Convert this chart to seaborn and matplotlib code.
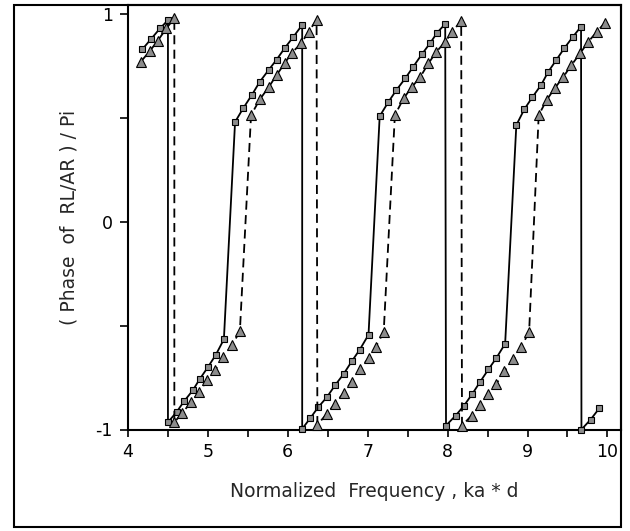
import matplotlib
matplotlib.use("Agg")
import matplotlib.pyplot as plt
from matplotlib.patches import Rectangle
from matplotlib.ticker import MultipleLocator
import seaborn as sns
import pandas as pd

# ---- data ----
sq_x = [4.18, 4.29, 4.40, 4.50,
        4.50, 4.61, 4.70, 4.81, 4.90, 5.00, 5.10, 5.20,
        5.34, 5.44, 5.55, 5.65, 5.76, 5.86, 5.96, 6.07, 6.18,
        6.18, 6.28, 6.38, 6.49, 6.59, 6.70, 6.80, 6.90, 7.01,
        7.15, 7.26, 7.36, 7.47, 7.57, 7.68, 7.78, 7.87, 7.97,
        7.98, 8.10, 8.20, 8.31, 8.41, 8.51, 8.61, 8.72,
        8.86, 8.96, 9.06, 9.17, 9.26, 9.36, 9.46, 9.57, 9.67,
        9.675, 9.79, 9.90]
sq_y = [0.83, 0.88, 0.93, 0.97,
        -0.965, -0.915, -0.865, -0.812, -0.756, -0.70, -0.64, -0.566,
        0.48, 0.545, 0.61, 0.674, 0.73, 0.78, 0.835, 0.89, 0.947,
        -0.997, -0.946, -0.893, -0.844, -0.788, -0.732, -0.672, -0.616, -0.544,
        0.508, 0.577, 0.634, 0.69, 0.746, 0.807, 0.859, 0.91, 0.952,
        -0.981, -0.933, -0.888, -0.828, -0.769, -0.711, -0.656, -0.587,
        0.465, 0.541, 0.599, 0.658, 0.722, 0.778, 0.835, 0.891, 0.939,
        -1.0, -0.952, -0.897]

tri_x = [4.16, 4.27, 4.37, 4.48, 4.58,
         4.58, 4.68, 4.79, 4.89, 4.99, 5.09, 5.19, 5.30, 5.40,
         5.54, 5.65, 5.76, 5.86, 5.96, 6.05, 6.17, 6.26, 6.36,
         6.37, 6.49, 6.59, 6.70, 6.80, 6.90, 7.01, 7.10, 7.20,
         7.34, 7.45, 7.55, 7.66, 7.76, 7.86, 7.97, 8.06, 8.17,
         8.18, 8.30, 8.41, 8.50, 8.61, 8.71, 8.82, 8.92, 9.02,
         9.14, 9.24, 9.34, 9.45, 9.55, 9.66, 9.76, 9.87, 9.97]
tri_y = [0.77, 0.82, 0.87, 0.93, 0.98,
         -0.965, -0.92, -0.868, -0.82, -0.764, -0.716, -0.652, -0.595, -0.528,
         0.513, 0.589, 0.647, 0.706, 0.762, 0.813, 0.859, 0.915, 0.971,
         -0.977, -0.924, -0.876, -0.823, -0.769, -0.711, -0.656, -0.603, -0.531,
         0.513, 0.594, 0.647, 0.698, 0.762, 0.818, 0.866, 0.915, 0.968,
         -0.981, -0.933, -0.884, -0.828, -0.78, -0.72, -0.663, -0.603, -0.531,
         0.513, 0.586, 0.642, 0.698, 0.754, 0.811, 0.866, 0.915, 0.958]

x_ticks = [4, 5, 6, 7, 8, 9, 10]
x_tick_labels = ["4", "5", "6", "7", "8", "9", "10"]
y_ticks = [-1, 0, 1]
y_tick_labels = ["-1", "0", "1"]
x_label = "Normalized  Frequency , ka * d"
y_label = "( Phase  of  RL/AR ) / Pi"

# ---- plotting ----
sns.set_style("ticks")
plt.rcParams["font.family"] = ["DejaVu Sans"]

df_sq = pd.DataFrame({"x": sq_x, "y": sq_y})
df_tri = pd.DataFrame({"x": tri_x, "y": tri_y})

fig = plt.figure(figsize=(6.3, 5.31), dpi=100)
ax = fig.add_axes([128 / 630, 1 - 429.5 / 531, (621 - 128) / 630, (429.5 - 5) / 531])

sns.lineplot(data=df_sq, x="x", y="y", sort=False, estimator=None, ax=ax,
             color="black", linewidth=1.3, marker="s", markersize=4.3,
             markerfacecolor="#8c8c8c", markeredgecolor="black", markeredgewidth=0.8,
             clip_on=False, zorder=3)
sns.lineplot(data=df_tri, x="x", y="y", sort=False, estimator=None, ax=ax,
             color="black", linewidth=1.3, marker="^", markersize=7.8,
             markerfacecolor="#8c8c8c", markeredgecolor="black", markeredgewidth=0.8,
             dashes=(5.0, 3.0), clip_on=False, zorder=3)

ax.set_xlim(4, 10.17)
ax.set_ylim(-1, 1.043)
ax.set_xticks(x_ticks)
ax.set_xticklabels(x_tick_labels)
ax.set_yticks(y_ticks)
ax.set_yticklabels(y_tick_labels)
ax.xaxis.set_minor_locator(MultipleLocator(0.5))
ax.yaxis.set_minor_locator(MultipleLocator(0.5))
ax.tick_params(axis="both", which="both", direction="out", length=5, width=1.2,
               labelsize=12.5, color="black", labelcolor="black", pad=5)
ax.tick_params(axis="y", which="both", length=6)
for s in ax.spines.values():
    s.set_linewidth(1.5)
    s.set_color("black")

ax.set_xlabel(x_label, fontsize=13.5, labelpad=15)
ax.set_ylabel(y_label, fontsize=13.5, labelpad=12)

# outer frame of the figure
fig.patches.append(Rectangle((14 / 630, 1 - 527 / 531), (621 - 14) / 630, (527 - 5) / 531,
                             transform=fig.transFigure, fill=False,
                             edgecolor="black", linewidth=1.5, zorder=0))

fig.savefig("out.png", dpi=100, facecolor="white")
